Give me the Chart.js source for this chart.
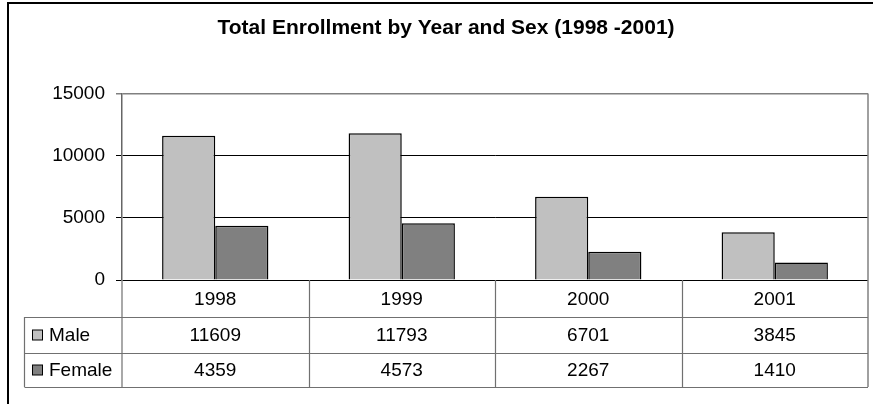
<!DOCTYPE html>
<html>
<head>
<meta charset="utf-8">
<script src="https://cdn.jsdelivr.net/npm/chart.js@4/dist/chart.umd.min.js"></script>
<style>
  html, body { margin: 0; padding: 0; background: #fff; }
  canvas { display: block; }
</style>
</head>
<body>
<canvas id="c" width="873" height="404"></canvas>
<script>
const chartTitle = 'Total Enrollment by Year and Sex (1998 -2001)';
const years = ['1998', '1999', '2000', '2001'];
const seriesNames = ['Male', 'Female'];
const maleValues = [11609, 11793, 6701, 3845];
const femaleValues = [4359, 4573, 2267, 1410];
const yTicks = [0, 5000, 10000, 15000];

const FONT = "'Liberation Sans', Arial, sans-serif";
const fillColors = ['#c0c0c0', '#808080'];

const frame = {
  id: 'frame',
  beforeDraw(chart) {
    const ctx = chart.ctx;
    ctx.save();
    ctx.fillStyle = '#fff';
    ctx.fillRect(0, 0, chart.width, chart.height);
    ctx.strokeStyle = '#000';
    ctx.lineWidth = 2;
    ctx.beginPath();
    ctx.moveTo(chart.width, 3);
    ctx.lineTo(8, 3);
    ctx.lineTo(8, chart.height);
    ctx.stroke();
    ctx.restore();
  }
};

const dataTable = {
  id: 'dataTable',
  afterDraw(chart) {
    const ctx = chart.ctx;
    const a = chart.chartArea;
    const x = chart.scales.x;
    const half = (x.getPixelForValue(1) - x.getPixelForValue(0)) / 2;
    const rows = [a.bottom, a.bottom + 37, a.bottom + 73, a.bottom + 107];
    const tableLeft = 24.5;
    ctx.save();
    ctx.strokeStyle = '#808080';
    ctx.lineWidth = 1.5;
    ctx.beginPath();
    ctx.moveTo(a.right, a.top);
    ctx.lineTo(a.right, rows[3]);
    ctx.stroke();
    ctx.strokeStyle = '#707070';
    ctx.lineWidth = 1.2;
    ctx.beginPath();
    for (let r = 1; r < rows.length; r++) {
      ctx.moveTo(tableLeft, Math.round(rows[r]) + 0.5);
      ctx.lineTo(a.right, Math.round(rows[r]) + 0.5);
    }
    ctx.moveTo(tableLeft, rows[1]);
    ctx.lineTo(tableLeft, rows[3]);
    ctx.moveTo(a.left, a.bottom);
    ctx.lineTo(a.left, rows[3]);
    for (let i = 0; i < years.length - 1; i++) {
      const bx = Math.round(x.getPixelForValue(i) + half) + 0.5;
      ctx.moveTo(bx, a.bottom);
      ctx.lineTo(bx, rows[3]);
    }
    ctx.stroke();
    ctx.fillStyle = '#000';
    ctx.font = '19px ' + FONT;
    ctx.textAlign = 'center';
    ctx.textBaseline = 'middle';
    const datasets = chart.data.datasets;
    chart.data.labels.forEach((lab, i) => {
      const cx = x.getPixelForValue(i);
      ctx.fillText(lab, cx, (rows[0] + rows[1]) / 2 + 1);
      datasets.forEach((ds, d) => {
        ctx.fillText(String(ds.data[i]), cx, (rows[d + 1] + rows[d + 2]) / 2 + 1);
      });
    });
    ctx.textAlign = 'left';
    datasets.forEach((ds, d) => {
      const cy = (rows[d + 1] + rows[d + 2]) / 2;
      ctx.fillStyle = ds.backgroundColor;
      ctx.fillRect(32.5, cy - 5, 10, 10);
      ctx.strokeStyle = '#000';
      ctx.lineWidth = 1;
      ctx.strokeRect(32.5, cy - 5, 10, 10);
      ctx.fillStyle = '#000';
      ctx.fillText(ds.label, 49, cy + 1);
    });
    ctx.restore();
  }
};

new Chart(document.getElementById('c'), {
  type: 'bar',
  data: {
    labels: years,
    datasets: [
      { label: seriesNames[0], data: maleValues, backgroundColor: fillColors[0], borderColor: '#000', borderWidth: 1.5 },
      { label: seriesNames[1], data: femaleValues, backgroundColor: fillColors[1], borderColor: '#000', borderWidth: 1.5 }
    ]
  },
  options: {
    responsive: false,
    animation: false,
    devicePixelRatio: 1,
    categoryPercentage: 0.57,
    barPercentage: 1.0,
    layout: { padding: { left: 24, right: 5, top: 0, bottom: 124 } },
    plugins: {
      legend: { display: false },
      tooltip: { enabled: false },
      title: {
        display: true,
        text: chartTitle,
        color: '#000',
        font: { family: FONT, size: 21, weight: 'bold', lineHeight: 1.2 },
        padding: { top: 16, bottom: 52.3 }
      }
    },
    scales: {
      x: { display: false },
      y: {
        min: 0,
        max: 15000,
        afterBuildTicks(scale) { scale.ticks = yTicks.map(v => ({ value: v })); },
        afterFit(scale) { scale.width = 98; },
        ticks: {
          color: '#000',
          font: { family: FONT, size: 19 },
          padding: 11,
          callback: (v) => String(v)
        },
        grid: {
          color: (c) => (c.tick && c.tick.value === 15000 ? '#808080' : '#000'),
          lineWidth: (c) => (c.tick && c.tick.value === 15000 ? 1.5 : 1),
          tickLength: 6,
          drawTicks: true
        },
        border: { display: true, color: '#666', width: 1.5 }
      }
    }
  },
  plugins: [frame, dataTable]
});
</script>
</body>
</html>
